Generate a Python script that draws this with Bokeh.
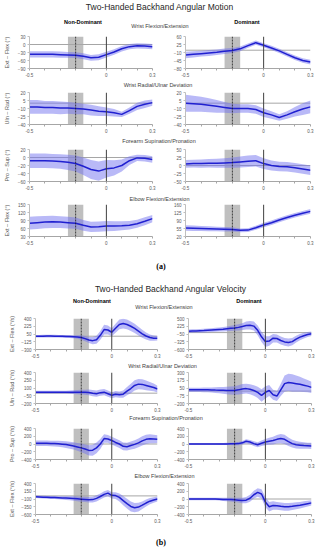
from bokeh.plotting import figure
from bokeh.models import Range1d, FixedTicker, NumeralTickFormatter, Span, BoxAnnotation, Div
from bokeh.layouts import column, row
from bokeh.embed import file_html
from bokeh.resources import INLINE

# ---------------- data ----------------
motion_x = [-0.5, -0.45, -0.4, -0.35, -0.3, -0.25, -0.2, -0.15, -0.1, -0.05, 0, 0.05, 0.1, 0.15, 0.2, 0.25, 0.3]
velocity_x = [-0.5, -0.475, -0.45, -0.425, -0.4, -0.375, -0.35, -0.325, -0.3, -0.275, -0.25, -0.225, -0.2,
              -0.175, -0.15, -0.125, -0.1, -0.075, -0.05, -0.025, 0, 0.025, 0.05, 0.075, 0.1, 0.125, 0.15,
              0.175, 0.2, 0.225, 0.25, 0.275, 0.3]

x_major_ticks = [-0.5, 0, 0.3]
x_minor_ticks = [-0.4, -0.3, -0.2, -0.1, 0.1, 0.2]
phase_window = [-0.25, -0.15]
event_x = -0.2
zero_value = 0

# Angular motion (deg): mean and half-width of shaded band
m_wfe_nd_mean = [-37, -37, -37, -37, -38, -39, -40, -44, -50, -48, -38, -28, -16, -8, -5, -6, -8]
m_wfe_nd_sd = [12, 12, 12, 12, 12, 11, 11, 11, 11, 11, 11, 10, 10, 10, 10, 10, 10]
m_wfe_d_mean = [-21, -18, -15, -12, -9, -5, -1, 6, 20, 33, 22, 10, -3, -18, -33, -45, -52]
m_wfe_d_sd = [14, 14, 13, 13, 12, 12, 11, 10, 9, 9, 9, 9, 9, 9, 10, 10, 10]
m_wru_nd_mean = [-7, -7, -8, -8, -9, -9, -10, -11, -13, -15, -16, -18, -21, -14, -6, -2, 1]
m_wru_nd_sd = [13, 13, 12, 12, 12, 11, 11, 10, 10, 9, 8, 7, 5, 6, 7, 7, 6]
m_wru_d_mean = [0, -1, -2, -4, -6, -8, -10, -10, -10, -12, -18, -22, -27, -22, -16, -11, -7]
m_wru_d_sd = [16, 15, 14, 13, 12, 10, 9, 8, 8, 8, 8, 7, 6, 7, 9, 11, 12]
m_fsp_nd_mean = [-8, -8, -8, -9, -10, -12, -15, -22, -30, -34, -28, -26, -20, -8, -1, -2, -5]
m_fsp_nd_sd = [18, 18, 18, 18, 18, 19, 20, 22, 24, 24, 22, 19, 15, 11, 8, 8, 8]
m_fsp_d_mean = [5, 6, 6, 7, 7, 8, 9, 11, 13, 15, 6, 0, -3, -4, -7, -11, -15]
m_fsp_d_sd = [12, 12, 13, 13, 14, 15, 16, 17, 18, 18, 17, 16, 15, 15, 15, 15, 15]
m_efe_nd_mean = [80, 82, 84, 85, 84, 82, 80, 72, 66, 67, 69, 69, 70, 72, 78, 87, 97]
m_efe_nd_sd = [24, 24, 23, 23, 22, 22, 21, 20, 19, 19, 19, 18, 17, 16, 15, 15, 14]
m_efe_d_mean = [57, 56, 55, 54, 53, 52, 51, 47, 48, 58, 70, 80, 92, 103, 113, 122, 130]
m_efe_d_sd = [12, 12, 11, 11, 10, 10, 9, 8, 8, 9, 10, 10, 10, 10, 10, 10, 10]

# Angular velocity (deg/s)
v_wfe_nd_mean = [0, 0, 2, 3, 3, 2, 0, -2, -5, -8, -12, -18, -30, -55, -85, -100, -80, 20, 150, 140, 90,
                 180, 265, 285, 265, 225, 175, 115, 55, 5, -30, -45, -45]
v_wfe_nd_sd = [30, 30, 30, 30, 30, 30, 30, 30, 30, 32, 35, 40, 50, 60, 70, 80, 90, 100, 110, 100, 90,
               100, 110, 110, 110, 110, 105, 100, 90, 80, 70, 60, 50]
v_wfe_d_mean = [50, 55, 60, 65, 70, 80, 90, 100, 110, 120, 135, 150, 165, 185, 215, 250, 260, 230, 80, -150,
                -320, -300, -200, -210, -280, -330, -350, -320, -230, -160, -110, -70, -40]
v_wfe_d_sd = [60, 60, 60, 62, 64, 66, 68, 70, 75, 80, 85, 90, 100, 110, 120, 140, 150, 160, 170, 180,
              190, 170, 150, 140, 140, 140, 140, 130, 120, 110, 100, 90, 80]
v_wru_nd_mean = [20, 20, 20, 20, 20, 20, 20, 20, 20, 20, 20, 20, 20, 18, 15, 0, -10, 10, 20, -10, -40,
                 -20, -30, -20, 40, 90, 150, 175, 170, 150, 130, 110, 80]
v_wru_nd_sd = [25, 25, 25, 25, 25, 25, 25, 25, 28, 30, 35, 40, 45, 50, 55, 60, 60, 60, 60, 60, 60,
               60, 60, 70, 80, 90, 100, 100, 100, 95, 85, 75, 65]
v_wru_d_mean = [20, 20, 20, 20, 20, 20, 18, 16, 15, 13, 10, 10, 10, 20, 35, 40, 30, 10, -20, -70, -20,
                10, -60, -80, 20, 120, 140, 130, 120, 110, 95, 80, 60]
v_wru_d_sd = [35, 35, 35, 35, 38, 40, 42, 45, 50, 55, 60, 65, 70, 75, 80, 80, 80, 85, 90, 100, 100,
              90, 80, 80, 100, 130, 140, 140, 130, 120, 110, 100, 90]
v_fsp_nd_mean = [20, 20, 20, 18, 15, 10, 5, -5, -15, -30, -50, -75, -100, -130, -165, -160, -100, 0, 140, 130,
                 90, 40, 0, -60, -70, -40, -10, 30, 80, 120, 135, 130, 125]
v_fsp_nd_sd = [70, 70, 70, 70, 72, 74, 76, 80, 85, 90, 95, 100, 110, 120, 130, 140, 140, 130, 110, 100,
               100, 100, 100, 100, 100, 105, 110, 115, 120, 120, 115, 110, 100]
v_fsp_d_mean = [0, 0, 0, 0, 0, 0, 0, 0, 0, 2, 3, 4, 5, 10, 30, 70, 50, 10, -20, 20, 50, 70, 90, 120, 140,
                120, 60, 10, -20, -30, -40, -45, -50]
v_fsp_d_sd = [20, 20, 20, 20, 20, 20, 20, 22, 24, 26, 28, 30, 35, 40, 45, 50, 55, 60, 65, 70, 80, 90, 100,
              110, 120, 120, 110, 100, 95, 90, 85, 80, 80]
v_efe_nd_mean = [-30, -35, -40, -45, -50, -55, -60, -65, -70, -75, -85, -95, -105, -115, -125, -120, -80, -20,
                 50, 90, 20, 10, -50, -150, -250, -340, -380, -360, -300, -230, -170, -130, -100]
v_efe_nd_sd = [40, 40, 42, 44, 46, 48, 50, 55, 60, 65, 70, 75, 80, 85, 90, 95, 100, 100, 100, 100, 100,
               110, 130, 150, 160, 160, 150, 140, 120, 110, 100, 90, 80]
v_efe_d_mean = [0, 0, 0, 0, 0, 0, 0, 0, -5, -10, -10, -15, -20, -30, -40, -30, 20, 110, 170, 130, -80,
                -200, -170, -175, -190, -200, -200, -190, -175, -160, -140, -120, -100]
v_efe_d_sd = [30, 30, 30, 30, 30, 30, 32, 34, 36, 40, 45, 50, 55, 60, 70, 80, 90, 100, 110, 120, 130,
              120, 110, 100, 100, 100, 100, 95, 90, 85, 80, 75, 70]

# y tick labels
m_wfe_nd_ticks = [-90, -60, -30, 0, 30]
m_wfe_d_ticks = [-80, -45, -10, 25, 60]
m_wru_nd_ticks = [-40, -25, -10, 5, 20]
m_wru_d_ticks = [-40, -25, -10, 5, 20]
m_fsp_nd_ticks = [-60, -40, -20, 0, 20]
m_fsp_d_ticks = [-50, -25, 0, 25, 50]
m_efe_nd_ticks = [30, 60, 90, 120, 150]
m_efe_d_ticks = [20, 55, 90, 125, 160]
v_wfe_nd_ticks = [-300, -125, 50, 225, 400]
v_wfe_d_ticks = [-600, -325, -50, 225, 500]
v_wru_nd_ticks = [-200, -50, 100, 250, 400]
v_wru_d_ticks = [-200, -75, 50, 175, 300]
v_fsp_nd_ticks = [-400, -200, 0, 200, 400]
v_fsp_d_ticks = [-400, -200, 0, 200, 400]
v_efe_nd_ticks = [-600, -350, -100, 150, 400]
v_efe_d_ticks = [-400, -200, 0, 200, 400]

motion_title = "Two-Handed Backhand Angular Motion"
velocity_title = "Two-Handed Backhand Angular Velocity"
side_labels = ["Non-Dominant", "Dominant"]
joint_titles = ["Wrist Flexion/Extension", "Wrist Radial/Ulnar Deviation",
                "Forearm Supination/Pronation", "Elbow Flexion/Extension"]
motion_ylabels = ["Ext \u2013 Flex (\u00b0)", "Uln \u2013 Rad (\u00b0)", "Pro \u2013 Sup (\u00b0)", "Ext \u2013 Flex (\u00b0)"]
velocity_ylabels = ["Ext \u2013 Flex (\u00b0/s)", "Uln \u2013 Rad (\u00b0/s)", "Pro \u2013 Sup (\u00b0/s)", "Ext \u2013 Flex (\u00b0/s)"]

# ---------------- style ----------------
FONT = "Liberation Sans"
TICK_COL = "#595959"
BAND_COL = "#7373f0"
LINE_COL = "#2020d0"


def panel(x, mean, sd, ticks, ylabel, width, height, bl, br, label_standoff):
    lo = [m - s for m, s in zip(mean, sd)]
    hi = [m + s for m, s in zip(mean, sd)]
    p = figure(width=width, height=height, x_range=Range1d(-0.5, 0.3),
               y_range=Range1d(ticks[0], ticks[-1]), output_backend="svg",
               toolbar_location=None, min_border_left=bl, min_border_right=br,
               min_border_top=3, min_border_bottom=11)
    p.outline_line_color = None
    p.grid.visible = False
    p.background_fill_color = "white"
    p.border_fill_color = "white"
    p.add_layout(BoxAnnotation(left=phase_window[0], right=phase_window[1], fill_color="#bfbfbf",
                               fill_alpha=1.0, line_color=None, level="underlay"))
    if ticks[0] < zero_value < ticks[-1]:
        p.add_layout(Span(location=zero_value, dimension="width", line_color="#a6a6a6",
                          line_width=1, level="underlay"))
    p.varea(x=x, y1=lo, y2=hi, fill_color=BAND_COL, fill_alpha=0.5)
    p.line(x=x, y=mean, line_color=LINE_COL, line_width=1.5)
    p.add_layout(Span(location=zero_value, dimension="height", line_color="#404040", line_width=1))
    p.add_layout(Span(location=event_x, dimension="height", line_color="#1a1a1a",
                      line_width=0.8, line_dash="2 1"))

    xa = p.xaxis[0]
    xa.ticker = FixedTicker(ticks=x_major_ticks, minor_ticks=x_minor_ticks)
    xa.formatter = NumeralTickFormatter(format="0.[0]")
    xa.major_label_text_font = FONT
    xa.major_label_text_font_size = "4.5px"
    xa.major_label_text_color = TICK_COL
    xa.axis_line_color = "#a6a6a6"
    xa.major_tick_line_color = "#a6a6a6"
    xa.minor_tick_line_color = "#a6a6a6"
    xa.major_tick_out = 2
    xa.major_tick_in = 0
    xa.minor_tick_out = 2
    xa.minor_tick_in = 0
    xa.major_label_standoff = 2

    ya = p.yaxis[0]
    ya.ticker = FixedTicker(ticks=ticks)
    ya.major_label_text_font = FONT
    ya.major_label_text_font_size = "4.5px"
    ya.major_label_text_color = TICK_COL
    ya.axis_line_color = "#bfbfbf"
    ya.major_tick_line_color = "#bfbfbf"
    ya.major_tick_out = 2
    ya.major_tick_in = 0
    ya.minor_tick_line_color = None
    ya.major_label_standoff = 2
    if ylabel:
        ya.axis_label = ylabel
        ya.axis_label_text_font = FONT
        ya.axis_label_text_font_size = "5.5px"
        ya.axis_label_text_font_style = "normal"
        ya.axis_label_text_color = TICK_COL
        ya.axis_label_standoff = label_standoff
    return p


def text_div(height, items):
    spans = ""
    for t, cx, cy, size, weight, color, fam in items:
        spans += ('<span style="position:absolute;left:%spx;top:%spx;transform:translate(-50%%,-50%%);'
                  'white-space:nowrap;line-height:1;font-family:%s;font-size:%spx;font-weight:%s;color:%s">%s</span>'
                  % (cx, cy, fam, size, weight, color, t))
    html = '<div style="position:relative;width:318px;height:%dpx">%s</div>' % (height, spans)
    return Div(text=html, width=318, height=height, margin=0, styles={"overflow": "visible"})


SANS = "'Liberation Sans', Arial, sans-serif"
SERIF = "'Liberation Serif', 'Times New Roman', serif"

motion_sets = [
    (m_wfe_nd_mean, m_wfe_nd_sd, m_wfe_nd_ticks, m_wfe_d_mean, m_wfe_d_sd, m_wfe_d_ticks),
    (m_wru_nd_mean, m_wru_nd_sd, m_wru_nd_ticks, m_wru_d_mean, m_wru_d_sd, m_wru_d_ticks),
    (m_fsp_nd_mean, m_fsp_nd_sd, m_fsp_nd_ticks, m_fsp_d_mean, m_fsp_d_sd, m_fsp_d_ticks),
    (m_efe_nd_mean, m_efe_nd_sd, m_efe_nd_ticks, m_efe_d_mean, m_efe_d_sd, m_efe_d_ticks),
]
velocity_sets = [
    (v_wfe_nd_mean, v_wfe_nd_sd, v_wfe_nd_ticks, v_wfe_d_mean, v_wfe_d_sd, v_wfe_d_ticks),
    (v_wru_nd_mean, v_wru_nd_sd, v_wru_nd_ticks, v_wru_d_mean, v_wru_d_sd, v_wru_d_ticks),
    (v_fsp_nd_mean, v_fsp_nd_sd, v_fsp_nd_ticks, v_fsp_d_mean, v_fsp_d_sd, v_fsp_d_ticks),
    (v_efe_nd_mean, v_efe_nd_sd, v_efe_nd_ticks, v_efe_d_mean, v_efe_d_sd, v_efe_d_ticks),
]

motion_rows = []
for i, (a, b, c, d, e, f) in enumerate(motion_sets):
    left = panel(motion_x, a, b, c, motion_ylabels[i], 165, 46, 26, 13, 5)
    right = panel(motion_x, d, e, f, None, 153, 46, 20, 8, 3)
    motion_rows.append(row(left, right, spacing=0, margin=0))

velocity_rows = []
for i, (a, b, c, d, e, f) in enumerate(velocity_sets):
    left = panel(velocity_x, a, b, c, velocity_ylabels[i], 170, 45, 35, 13, 3)
    right = panel(velocity_x, d, e, f, None, 148, 45, 18, 7, 3)
    velocity_rows.append(row(left, right, spacing=0, margin=0))

SUB = 5.5
SUBCOL = "#404040"
div0 = text_div(33, [
    (motion_title, 159.5, 7, 8.5, "normal", "#262626", SANS),
    (side_labels[0], 83, 23, 5.5, "bold", "#000000", SANS),
    (side_labels[1], 247, 23, 5.5, "bold", "#000000", SANS),
    (joint_titles[0], 160, 26.5, SUB, "normal", SUBCOL, SANS),
])
div1 = text_div(10, [(joint_titles[1], 158, 5.3, SUB, "normal", SUBCOL, SANS)])
div2 = text_div(11, [(joint_titles[2], 159, 6, SUB, "normal", SUBCOL, SANS)])
div3 = text_div(9, [(joint_titles[3], 159.5, 4.7, SUB, "normal", SUBCOL, SANS)])
div4 = text_div(68, [
    ("(a)", 161, 19.7, 8, "bold", "#000000", SERIF),
    (velocity_title, 170.5, 42, 8.5, "normal", "#262626", SANS),
    (side_labels[0], 92, 55.3, 5.5, "bold", "#000000", SANS),
    (side_labels[1], 249, 55.3, 5.5, "bold", "#000000", SANS),
    (joint_titles[0], 164, 61.3, SUB, "normal", SUBCOL, SANS),
])
div5 = text_div(9, [(joint_titles[1], 162.5, 4.3, SUB, "normal", SUBCOL, SANS)])
div6 = text_div(11, [(joint_titles[2], 166, 4.3, SUB, "normal", SUBCOL, SANS)])
div7 = text_div(10, [(joint_titles[3], 164.5, 5, SUB, "normal", SUBCOL, SANS)])
div8 = text_div(25, [("(b)", 161, 18, 8, "bold", "#000000", SERIF)])

layout = column(
    div0, motion_rows[0], div1, motion_rows[1], div2, motion_rows[2], div3, motion_rows[3],
    div4, velocity_rows[0], div5, velocity_rows[1], div6, velocity_rows[2], div7, velocity_rows[3], div8,
    spacing=0, margin=0
)

open("out.html", "w").write(file_html(layout, INLINE))
